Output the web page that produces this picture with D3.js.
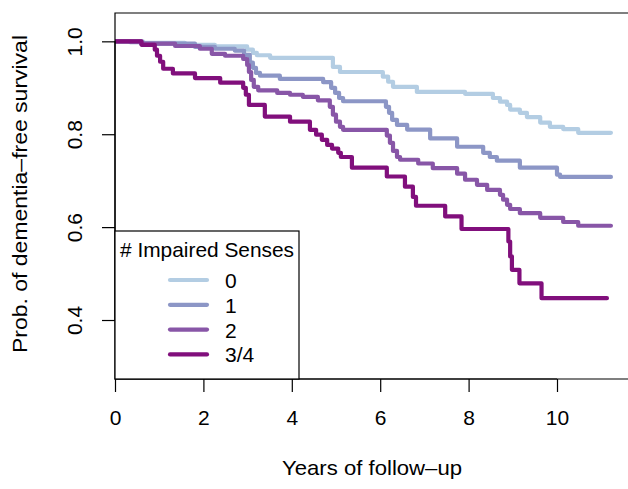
<!DOCTYPE html>
<html>
<head>
<meta charset="utf-8">
<script src="https://cdn.jsdelivr.net/npm/d3@7"></script>
<style>
  body { margin: 0; background: #fff; }
  text { font-family: "Liberation Sans", Arial, Helvetica, sans-serif; fill: #000; }
</style>
</head>
<body>
<script>
// KM step curves: event times (years) and survival after each step
const groups = ["0", "1", "2", "3/4"];
const colors = ["#B3CDE3", "#8C96C6", "#8856A7", "#810F7C"];

const times0 = [0, 0.63, 1.58, 2.26, 2.99, 3.12, 3.21, 3.51, 4.93, 5.09, 6.06, 6.18, 6.29, 6.83, 7.92, 8.55, 8.71, 8.87, 8.94, 9.16, 9.32, 9.62, 9.84, 10.14, 10.48, 11.22];
const surv0  = [1.0, 0.997, 0.9925, 0.989, 0.982, 0.975, 0.970, 0.9645, 0.945, 0.934, 0.924, 0.913, 0.902, 0.891, 0.887, 0.878, 0.870, 0.863, 0.853, 0.846, 0.837, 0.825, 0.816, 0.811, 0.803, 0.803];

const times1 = [0, 0.34, 0.63, 1.81, 2.26, 2.71, 2.92, 3.05, 3.12, 3.19, 3.28, 3.73, 4.71, 4.89, 4.98, 5.07, 5.16, 6.13, 6.20, 6.27, 6.38, 6.61, 7.13, 7.74, 8.33, 8.48, 8.64, 9.16, 10.0, 10.07, 11.22];
const surv1  = [1.0, 0.998, 0.995, 0.988, 0.984, 0.980, 0.971, 0.954, 0.943, 0.932, 0.926, 0.919, 0.912, 0.900, 0.889, 0.878, 0.871, 0.859, 0.846, 0.831, 0.820, 0.810, 0.791, 0.773, 0.760, 0.751, 0.743, 0.728, 0.713, 0.708, 0.708];

const times2 = [0, 0.59, 1.36, 1.92, 2.19, 2.49, 2.90, 2.99, 3.03, 3.08, 3.14, 3.24, 3.67, 3.96, 4.25, 4.59, 4.86, 4.93, 5.0, 5.09, 5.16, 6.15, 6.22, 6.29, 6.38, 6.45, 6.86, 7.19, 7.74, 7.92, 8.19, 8.42, 8.71, 8.78, 8.87, 8.94, 9.16, 9.62, 10.14, 10.48, 11.22];
const surv2  = [1.0, 0.995, 0.990, 0.984, 0.973, 0.969, 0.962, 0.949, 0.934, 0.917, 0.902, 0.8945, 0.889, 0.885, 0.8805, 0.873, 0.859, 0.842, 0.827, 0.816, 0.8095, 0.797, 0.7815, 0.764, 0.751, 0.745, 0.737, 0.727, 0.715, 0.702, 0.691, 0.680, 0.6695, 0.659, 0.648, 0.639, 0.630, 0.620, 0.611, 0.603, 0.603];

const times3 = [0, 0.60, 0.90, 0.95, 1.02, 1.09, 1.31, 1.81, 2.38, 2.90, 2.96, 3.03, 3.39, 3.96, 4.41, 4.55, 4.68, 4.80, 4.91, 5.05, 5.11, 5.36, 6.15, 6.56, 6.74, 6.81, 7.47, 7.84, 8.90, 8.94, 8.98, 9.15, 9.65, 11.13];
const surv3  = [1.0, 0.9925, 0.982, 0.969, 0.956, 0.941, 0.931, 0.921, 0.911, 0.900, 0.885, 0.863, 0.838, 0.827, 0.8095, 0.799, 0.788, 0.777, 0.769, 0.760, 0.751, 0.728, 0.709, 0.687, 0.665, 0.646, 0.623, 0.596, 0.569, 0.537, 0.508, 0.479, 0.447, 0.447];

const xTicks = [0, 2, 4, 6, 8, 10];
const yTicks = [0.4, 0.6, 0.8, 1.0];

const curves = [
  {name: groups[0], color: colors[0], t: times0, s: surv0},
  {name: groups[1], color: colors[1], t: times1, s: surv1},
  {name: groups[2], color: colors[2], t: times2, s: surv2},
  {name: groups[3], color: colors[3], t: times3, s: surv3}
];

const W = 628, H = 489;
const plotLeft = 115, plotTop = 13, plotBottom = 379;
const fs = 21;

const x = d3.scaleLinear().domain([0, 12]).range([plotLeft, plotLeft + 12 * 44.2]);
const y = d3.scaleLinear().domain([0.273, 1.061]).range([plotBottom, plotTop]);

const svg = d3.select('body').append('svg')
  .attr('width', W)
  .attr('height', H);

svg.append('defs').append('clipPath').attr('id', 'plotclip')
  .append('rect')
  .attr('x', plotLeft).attr('y', plotTop)
  .attr('width', W - plotLeft).attr('height', plotBottom - plotTop);

// curves (later groups drawn on top)
const line = d3.line()
  .x(d => x(d[0]))
  .y(d => y(d[1]))
  .curve(d3.curveStepAfter);

svg.append('g').attr('clip-path', 'url(#plotclip)')
  .selectAll('path')
  .data(curves)
  .enter()
  .append('path')
  .attr('d', c => line(c.t.map((t, i) => [t, c.s[i]])))
  .attr('fill', 'none')
  .attr('stroke', c => c.color)
  .attr('stroke-width', 4.2)
  .attr('stroke-linejoin', 'round')
  .attr('stroke-linecap', 'round');

// box (right side runs off the page)
svg.append('path')
  .attr('d', `M${W + 5},${plotTop}H${plotLeft}V${plotBottom}H${W + 5}`)
  .attr('fill', 'none')
  .attr('stroke', '#000')
  .attr('stroke-width', 1.2);

// axes
const xAxis = d3.axisBottom(x).tickValues(xTicks).tickSize(13).tickPadding(18).tickFormat(d3.format('d'));
const gx = svg.append('g').attr('transform', `translate(0,${plotBottom})`).call(xAxis);
gx.select('.domain').attr('d', `M${x(0)},0H${x(10)}`).attr('stroke-width', 1.2);
gx.selectAll('line').attr('stroke-width', 1.2);
gx.selectAll('text').attr('font-size', fs).attr('font-family', null);

const yAxis = d3.axisLeft(y).tickValues(yTicks).tickSize(13).tickPadding(0).tickFormat(d3.format('.1f'));
const gy = svg.append('g').attr('transform', `translate(${plotLeft},0)`).call(yAxis);
gy.select('.domain').attr('d', `M0,${y(0.4)}V${y(1.0)}`).attr('stroke-width', 1.2);
gy.selectAll('line').attr('stroke-width', 1.2);
gy.selectAll('text')
  .attr('font-size', fs)
  .attr('font-family', null)
  .attr('x', null).attr('dy', null)
  .attr('text-anchor', 'middle')
  .attr('transform', 'translate(-33,0) rotate(-90)')
  .attr('y', 0);

// axis titles
svg.append('text')
  .attr('x', 372).attr('y', 475)
  .attr('text-anchor', 'middle')
  .attr('font-size', fs)
  .attr('textLength', 180)
  .attr('lengthAdjust', 'spacingAndGlyphs')
  .text('Years of follow\u2013up');

svg.append('text')
  .attr('transform', 'translate(27,194) rotate(-90)')
  .attr('text-anchor', 'middle')
  .attr('font-size', fs)
  .attr('textLength', 318)
  .attr('lengthAdjust', 'spacingAndGlyphs')
  .text('Prob. of dementia\u2013free survival');

// legend
const lg = svg.append('g');
lg.append('rect')
  .attr('x', plotLeft).attr('y', 231)
  .attr('width', 184).attr('height', plotBottom - 231)
  .attr('fill', '#fff')
  .attr('stroke', '#000')
  .attr('stroke-width', 1.2);
lg.append('text')
  .attr('x', 120).attr('y', 257)
  .attr('font-size', fs)
  .attr('textLength', 174)
  .attr('lengthAdjust', 'spacingAndGlyphs')
  .text('# Impaired Senses');
const items = lg.selectAll('g.item')
  .data(curves)
  .enter()
  .append('g')
  .attr('transform', (d, i) => `translate(0,${280 + i * 24.8})`);
items.append('line')
  .attr('x1', 170).attr('x2', 207)
  .attr('stroke', d => d.color)
  .attr('stroke-width', 4.2)
  .attr('stroke-linecap', 'round');
items.append('text')
  .attr('x', 225).attr('y', 8)
  .attr('font-size', fs)
  .text(d => d.name);
</script>
</body>
</html>
